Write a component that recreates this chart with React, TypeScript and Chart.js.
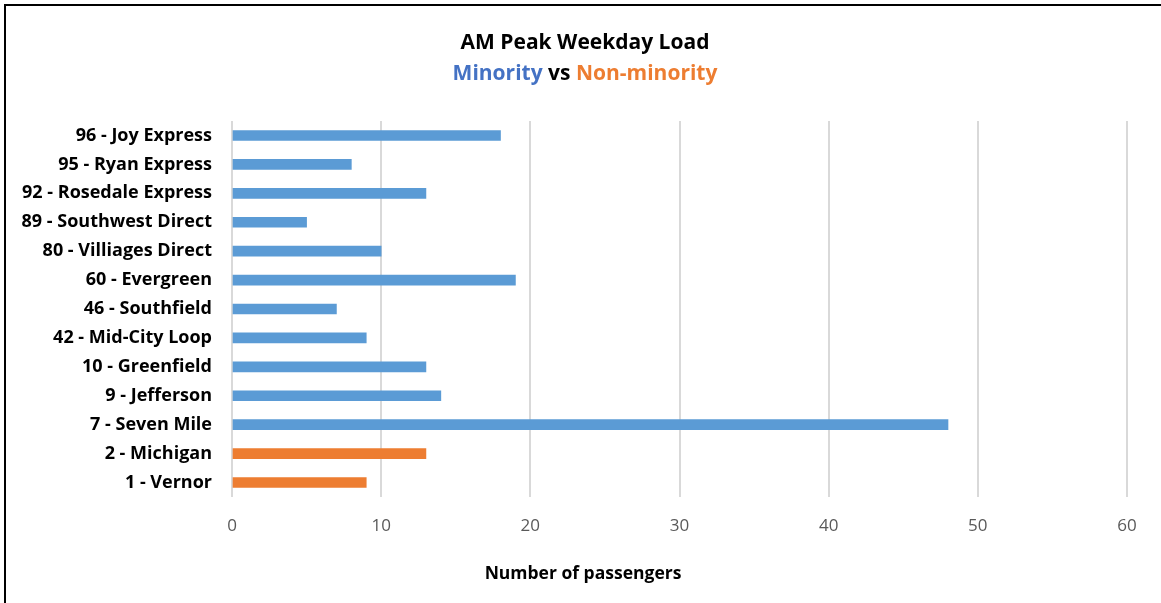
import React, { useEffect, useRef } from "react";
import { Chart, registerables } from "chart.js";

Chart.register(...registerables);

const routes: string[] = [
  "96 - Joy Express",
  "95 - Ryan Express",
  "92 - Rosedale Express",
  "89 - Southwest Direct",
  "80 - Villiages Direct",
  "60 - Evergreen",
  "46 - Southfield",
  "42 - Mid-City Loop",
  "10 - Greenfield",
  "9 - Jefferson",
  "7 - Seven Mile",
  "2 - Michigan",
  "1 - Vernor",
];

const passengers: number[] = [18, 8, 13, 5, 10, 19, 7, 9, 13, 14, 48, 13, 9];

const isMinority: boolean[] = [
  true, true, true, true, true, true, true, true, true, true, true, false, false,
];

const xTicks: number[] = [0, 10, 20, 30, 40, 50, 60];

const chartTitle = "AM Peak Weekday Load";
const subtitleParts: string[] = ["Minority", " vs ", "Non-minority"];
const xAxisTitle = "Number of passengers";

const BLUE = "#5B9BD5";
const ORANGE = "#ED7D31";
const TITLE_BLUE = "#4472C4";
const BOLD_FONT = "'Open Sans', sans-serif";
const TICK_FONT = "'Open Sans', sans-serif";

const titlePlugin = {
  id: "customTitles",
  afterDraw(chart: any) {
    const ctx = chart.ctx as CanvasRenderingContext2D;
    const cx = 585;
    ctx.save();
    ctx.textBaseline = "middle";
    ctx.fillStyle = "#000000";
    ctx.font = `bold 21px ${BOLD_FONT}`;
    ctx.textAlign = "center";
    ctx.fillText(chartTitle, cx, 43);

    ctx.font = `bold 21px ${BOLD_FONT}`;
    const colors = [TITLE_BLUE, "#000000", ORANGE];
    const widths = subtitleParts.map((p) => ctx.measureText(p).width);
    const total = widths.reduce((a, b) => a + b, 0);
    let x = cx - total / 2;
    ctx.textAlign = "left";
    subtitleParts.forEach((p, i) => {
      ctx.fillStyle = colors[i];
      ctx.fillText(p, x, 74);
      x += widths[i];
    });

    ctx.font = `bold 17.5px ${BOLD_FONT}`;
    ctx.fillStyle = "#000000";
    ctx.textAlign = "center";
    ctx.fillText(xAxisTitle, 583, 574);
    ctx.restore();
  },
};

export default function App() {
  const canvasRef = useRef<HTMLCanvasElement | null>(null);

  useEffect(() => {
    if (!canvasRef.current) return;
    const chart = new Chart(canvasRef.current, {
      type: "bar",
      data: {
        labels: routes,
        datasets: [
          {
            label: "Passengers",
            data: passengers,
            backgroundColor: isMinority.map((m) => (m ? BLUE : ORANGE)),
            barThickness: 10,
            borderWidth: 0,
          },
        ],
      },
      options: {
        indexAxis: "y",
        animation: false,
        responsive: false,
        maintainAspectRatio: false,
        layout: { padding: { top: 121, right: 34, left: 0, bottom: 0 } },
        plugins: {
          legend: { display: false },
          title: { display: false },
          tooltip: { enabled: false },
        },
        scales: {
          x: {
            min: 0,
            max: 60,
            afterBuildTicks: (scale: any) => {
              scale.ticks = xTicks.map((v) => ({ value: v }));
            },
            afterFit: (scale: any) => {
              scale.height = 106;
            },
            grid: {
              color: "#D9D9D9",
              lineWidth: 2,
              drawTicks: false,
            },
            border: { display: false },
            ticks: {
              color: "#595959",
              font: { family: TICK_FONT, size: 17 },
              padding: 19,
            },
          },
          y: {
            afterFit: (scale: any) => {
              scale.width = 232;
            },
            grid: { display: false, drawTicks: false },
            border: { display: false },
            ticks: {
              color: "#000000",
              font: { family: BOLD_FONT, size: 18, weight: "bold" },
              padding: 20,
              autoSkip: false,
            },
          },
        },
      },
      plugins: [titlePlugin],
    });
    return () => chart.destroy();
  }, []);

  return (
    <div
      style={{
        position: "absolute",
        left: 0,
        top: 0,
        width: 1161,
        height: 603,
        background: "#ffffff",
        overflow: "hidden",
      }}
    >
      <div
        style={{
          position: "absolute",
          left: 4,
          top: 4,
          width: 1200,
          height: 700,
          borderLeft: "2px solid #000",
          borderTop: "2px solid #000",
        }}
      />
      <canvas
        ref={canvasRef}
        width={1161}
        height={603}
        style={{ position: "absolute", left: 0, top: 0 }}
      />
    </div>
  );
}
